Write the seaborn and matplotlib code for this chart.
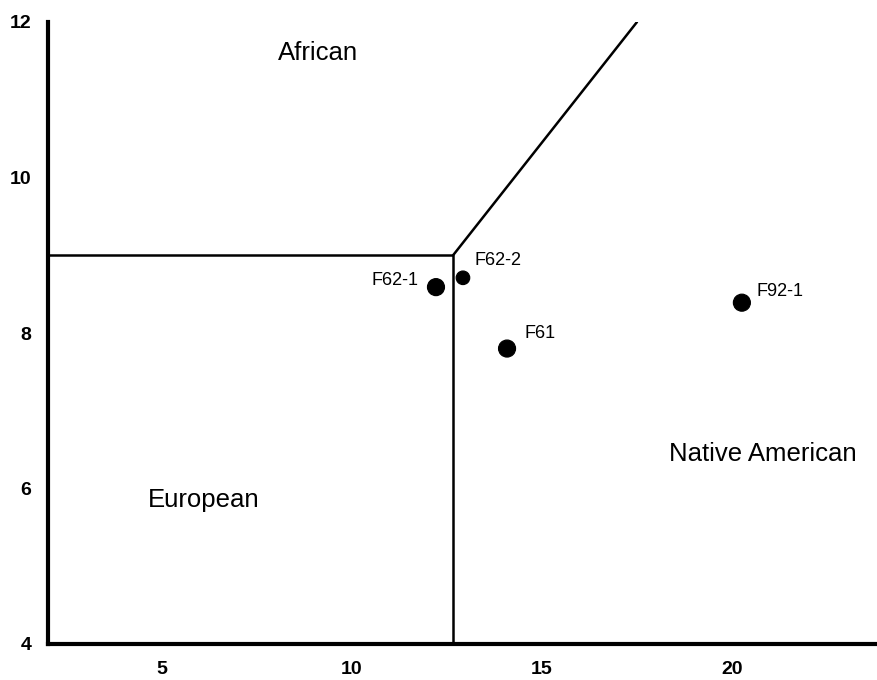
import matplotlib
matplotlib.use("Agg")
import matplotlib.pyplot as plt
import seaborn as sns
import pandas as pd

# Sample points
samples = ["F62-1", "F62-2", "F61", "F92-1"]
x_vals = [12.21, 12.92, 14.08, 20.26]
y_vals = [8.59, 8.71, 7.80, 8.39]
dot_size = [17, 13, 17, 17]

# Region boundaries
border_x = [2.0, 12.66, 12.66]
border_y = [9.0, 9.0, 4.0]
diag_x = [12.66, 17.5]
diag_y = [9.0, 12.0]

# Region names
regions = ["African", "European", "Native American"]
region_x = [9.1, 6.1, 20.8]
region_y = [11.6, 5.85, 6.45]

x_ticks = [5, 10, 15, 20]
y_ticks = [4, 6, 8, 10, 12]

df = pd.DataFrame({"x": x_vals, "y": y_vals, "size": dot_size, "sample": samples})

sns.set_theme(style="white")
plt.rcParams["font.family"] = ["Liberation Sans", "DejaVu Sans"]
plt.rcParams["text.color"] = "black"
plt.rcParams["xtick.color"] = "black"
plt.rcParams["ytick.color"] = "black"

fig = plt.figure(figsize=(8.77, 6.8), dpi=100)
ax = fig.add_axes([48 / 877, 36 / 680, 829 / 877, 622 / 680])

ax.plot(border_x, border_y, color="black", lw=1.8, zorder=2)
ax.plot(diag_x, diag_y, color="black", lw=1.8, zorder=2)

sns.scatterplot(data=df, x="x", y="y", size="size", sizes=(95, 150),
                color="black", edgecolor="black", legend=False, ax=ax, zorder=3)

offsets = {"F62-1": (-0.45, 0.08, "right"), "F62-2": (0.3, 0.22, "left"),
           "F61": (0.45, 0.2, "left"), "F92-1": (0.38, 0.14, "left")}
for s, xv, yv in zip(samples, x_vals, y_vals):
    dx, dy, ha = offsets[s]
    ax.text(xv + dx, yv + dy, s, fontsize=13, ha=ha, va="center", color="black")

for name, rx, ry in zip(regions, region_x, region_y):
    ax.text(rx, ry, name, fontsize=18.5, ha="center", va="center", color="black")

ax.set_xlim(2.0, 2.0 + 829 / 38)
ax.set_ylim(4, 12)
ax.set_xticks(x_ticks)
ax.set_yticks(y_ticks)
ax.set_xticklabels([str(t) for t in x_ticks], fontsize=14, fontweight="bold")
ax.set_yticklabels([str(t) for t in y_ticks], fontsize=14, fontweight="bold")
ax.tick_params(axis="both", length=0, pad=12)
ax.set_xlabel("")
ax.set_ylabel("")

for side in ["top", "right"]:
    ax.spines[side].set_visible(False)
for side in ["left", "bottom"]:
    ax.spines[side].set_color("black")
    ax.spines[side].set_linewidth(3)

fig.savefig("out.png", dpi=100, facecolor="white")
